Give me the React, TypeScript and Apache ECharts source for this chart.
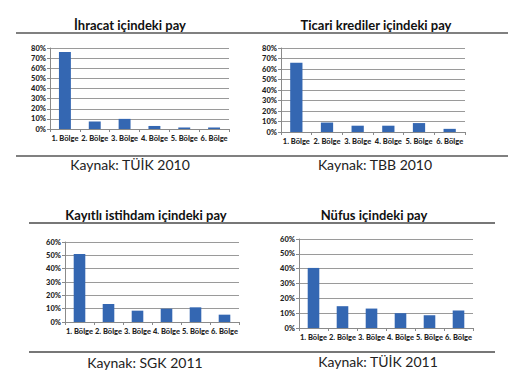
import React, { useEffect, useRef } from "react";
import * as echarts from "echarts";

const categories = ["1. Bölge", "2. Bölge", "3. Bölge", "4. Bölge", "5. Bölge", "6. Bölge"];
const ihracat = [76, 7.5, 10, 3, 1.5, 1.5];
const ticari = [66, 9, 6, 6, 8.5, 3];
const istihdam = [51, 13.5, 8.5, 10, 11, 5.5];
const nufus = [40.5, 14.7, 13.1, 10, 8.6, 11.8];

const titles = ["İhracat içindeki pay", "Ticari krediler içindeki pay", "Kayıtlı istihdam içindeki pay", "Nüfus içindeki pay"];
const sources = ["Kaynak: TÜİK 2010", "Kaynak: TBB 2010", "Kaynak: SGK 2011", "Kaynak: TÜİK 2011"];
const yMax = [80, 80, 60, 60];

const seriesData = [ihracat, ticari, istihdam, nufus];

const grids = [
  { left: 50, top: 48, width: 179, height: 81 },
  { left: 281, top: 48, width: 184, height: 84 },
  { left: 65, top: 242, width: 174, height: 80 },
  { left: 299, top: 239, width: 174, height: 89 },
];
const titlePos = [
  [130, 25],
  [376, 25],
  [146, 215],
  [374, 215],
];
const sourcePos = [
  [130, 164],
  [375, 164],
  [145, 362],
  [378, 361],
];

const FONT = "Lato";
const BLUE = "#3467B2";

export default function App() {
  const ref = useRef<HTMLDivElement>(null);
  useEffect(() => {
    if (!ref.current) return;
    const chart = echarts.init(ref.current, undefined, { renderer: "svg" });
    const graphic: any[] = [];
    titles.forEach((t, i) => {
      graphic.push({
        type: "text",
        x: titlePos[i][0],
        y: titlePos[i][1],
        style: {
          text: t,
          fontFamily: FONT,
          fontWeight: "bold",
          fontSize: 13,
          fill: "#111",
          textAlign: "center",
          textVerticalAlign: "middle",
        },
      });
    });
    sources.forEach((t, i) => {
      graphic.push({
        type: "text",
        x: sourcePos[i][0],
        y: sourcePos[i][1],
        style: {
          text: t,
          fontFamily: FONT,
          fontSize: 14,
          fill: "#222",
          textAlign: "center",
          textVerticalAlign: "middle",
        },
      });
    });
    const lines = [
      [16, 33, 508, "#808080", 2],
      [16, 156, 508, "#808080", 2],
      [29, 223, 495, "#4a4a4a", 1.5],
      [29, 352, 495, "#4a4a4a", 1.5],
    ];
    lines.forEach((l: any) => {
      graphic.push({
        type: "line",
        shape: { x1: l[0], y1: l[1], x2: l[2], y2: l[1] },
        style: { stroke: l[3], lineWidth: l[4] },
      });
    });

    const option: any = {
      animation: false,
      backgroundColor: "#fff",
      grid: grids.map((g) => ({ ...g, containLabel: false })),
      xAxis: grids.map((_, i) => ({
        type: "category",
        gridIndex: i,
        data: categories,
        boundaryGap: true,
        axisLine: { lineStyle: { color: "#8a8a8a", width: 1 } },
        axisTick: { show: true, length: 3, lineStyle: { color: "#8a8a8a" } },
        axisLabel: {
          fontFamily: FONT,
          fontWeight: 900,
          fontSize: 7.5,
          color: "#1e1e1e",
          margin: 5,
          interval: 0,
        },
      })),
      yAxis: grids.map((_, i) => ({
        type: "value",
        gridIndex: i,
        min: 0,
        max: yMax[i],
        interval: 10,
        axisLine: { show: true, lineStyle: { color: "#8a8a8a", width: 1 } },
        axisTick: { show: true, length: 3, lineStyle: { color: "#8a8a8a" } },
        splitLine: { lineStyle: { color: "#9a9a9a", width: 1 } },
        axisLabel: {
          formatter: "{value}%",
          fontFamily: FONT,
          fontWeight: 900,
          fontSize: 7.5,
          color: "#1e1e1e",
          margin: 4,
        },
      })),
      series: seriesData.map((d, i) => ({
        type: "bar",
        xAxisIndex: i,
        yAxisIndex: i,
        data: d,
        barCategoryGap: "60%",
        itemStyle: { color: BLUE },
      })),
      graphic,
    };
    chart.setOption(option);
    return () => chart.dispose();
  }, []);
  return (
    <div
      ref={ref}
      style={{ position: "fixed", left: 0, top: 0, width: 520, height: 387, background: "#fff" }}
    />
  );
}
